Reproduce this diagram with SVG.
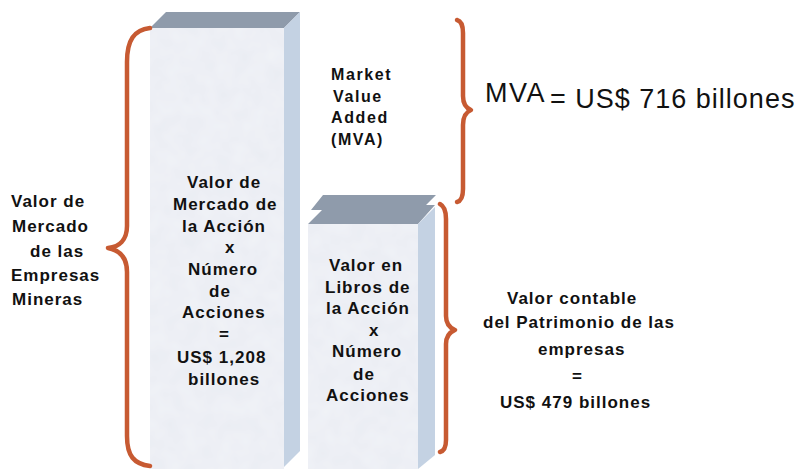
<svg xmlns="http://www.w3.org/2000/svg" width="810" height="469" viewBox="0 0 810 469">
<style>
.front{fill:#e9ecf3}
.side{fill:#c4d2e3}
.top{fill:#8f9bab}
.brace{fill:none;stroke:#c75a32;stroke-width:4.5;stroke-linecap:round;stroke-linejoin:round}
.b{font-family:"Liberation Sans",Arial,sans-serif;font-weight:bold;font-size:17px;letter-spacing:1px;fill:#111}
.m{font-family:"Liberation Sans",Arial,sans-serif;font-weight:bold;font-size:16px;letter-spacing:1.6px;fill:#111}
.r{font-family:"Liberation Sans",Arial,sans-serif;font-size:27px;fill:#111}
</style>
<defs>
<filter id="tex" x="0" y="0" width="1" height="1">
<feTurbulence type="fractalNoise" baseFrequency="0.06" numOctaves="2" seed="3" result="n"/>
<feColorMatrix in="n" type="matrix" values="0 0 0 0 1  0 0 0 0 1  0 0 0 0 1  0 0 0 0.35 0" result="w"/>
<feComposite in="w" in2="SourceGraphic" operator="in" result="wi"/>
<feMerge><feMergeNode in="SourceGraphic"/><feMergeNode in="wi"/></feMerge>
</filter>
</defs>
<rect width="810" height="469" fill="#ffffff"/>

<g id="column-market">
<rect class="front" x="150" y="28" width="134" height="441" filter="url(#tex)"/>
<polygon class="top" points="150,28 166,12 300,12 284,28"/>
<polygon class="side" points="284,28 300,12 300,451 284,467"/>
<text class="b" x="187" y="188">Valor de</text>
<text class="b" x="173" y="210">Mercado de</text>
<text class="b" x="182" y="232">la Acción</text>
<text class="b" x="225" y="253">x</text>
<text class="b" x="188" y="275">Número</text>
<text class="b" x="209" y="297">de</text>
<text class="b" x="182" y="318">Acciones</text>
<text class="b" x="219" y="340">=</text>
<text class="b" x="177" y="363">US$ 1,208</text>
<text class="b" x="188" y="385">billones</text>
</g>

<g id="column-book">
<rect class="front" x="308" y="224" width="110" height="245" filter="url(#tex)"/>
<polygon class="top" points="323,195 436,195 426,205 435,205 418,224 308,224 322,210 311,210"/>
<polygon class="side" points="418,224 435,207 435,455 418,469"/>
<text class="b" x="329" y="271">Valor en</text>
<text class="b" x="325" y="293">Libros de</text>
<text class="b" x="326" y="314">la Acción</text>
<text class="b" x="369" y="336">x</text>
<text class="b" x="332" y="357">Número</text>
<text class="b" x="353" y="380">de</text>
<text class="b" x="326" y="401">Acciones</text>
</g>

<g id="label-left">
<text class="b" x="11" y="207">Valor de</text>
<text class="b" x="12" y="232">Mercado</text>
<text class="b" x="30" y="257">de las</text>
<text class="b" x="11" y="281">Empresas</text>
<text class="b" x="12" y="305">Mineras</text>
</g>

<g id="label-mva-title">
<text class="m" x="331" y="80">Market</text>
<text class="m" x="333" y="102">Value</text>
<text class="m" x="331" y="123">Added</text>
<text class="m" x="331" y="145">(MVA)</text>
</g>

<g id="label-mva-value">
<text class="r" x="485" y="102" letter-spacing="1.5">MVA</text>
<text class="r" x="550" y="108" letter-spacing="1">= US$ 716 billones</text>
</g>

<g id="label-book">
<text class="b" x="507" y="304">Valor contable</text>
<text class="b" x="483" y="328">del Patrimonio de las</text>
<text class="b" x="538" y="355">empresas</text>
<text class="b" x="572" y="382">=</text>
<text class="b" x="500" y="408">US$ 479 billones</text>
</g>

<g id="connectors">
<path class="brace" d="M150,28 C134,30 127,40 127,62 L127,226 C127,240 119,247 108,248 C119,250 127,257 127,272 L127,436 C127,456 134,464 150,466"/>
<path class="brace" d="M457,20 C461,21 463,25 463,33 L463,96 C463,104 466,108 471,110 C466,112 463,117 463,125 L463,189 C463,197 461,201 457,202"/>
<path class="brace" d="M440,204 C444,206 446,211 446,219 L446,316 C446,324 450,328 455,330 C450,332 446,336 446,344 L446,440 C446,448 444,451 440,452"/>
</g>
</svg>
